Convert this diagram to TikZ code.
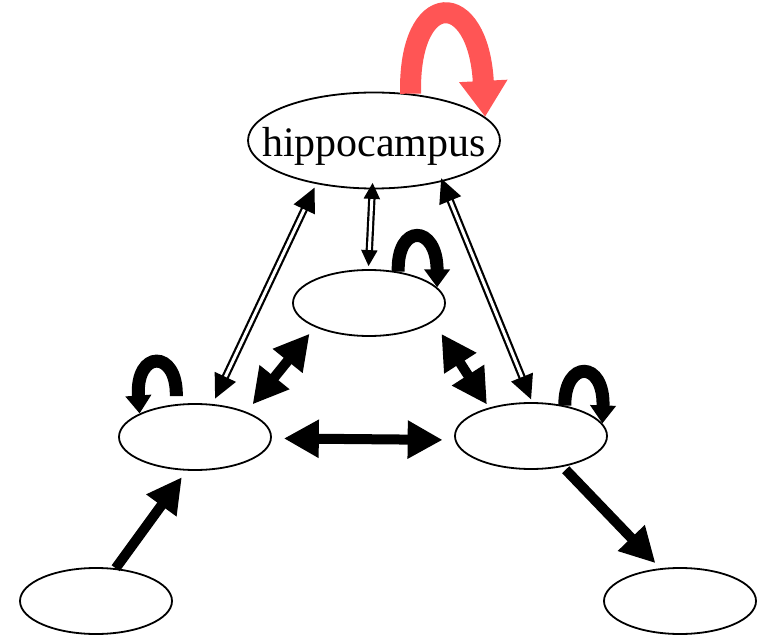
\documentclass[tikz,border=0pt]{standalone}
\usepackage{fontspec}
\setmainfont{Liberation Serif}
\usetikzlibrary{shapes.geometric,arrows.meta}
\definecolor{loopred}{RGB}{255,85,85}
\tikzset{
  region/.style={draw,ellipse,line width=1.8pt,inner sep=0pt,minimum width=152pt,minimum height=66pt},
  twoway/.style={line width=10pt,{Triangle[length=35pt,width=36pt]}-{Triangle[length=35pt,width=36pt]}},
  oneway/.style={line width=10pt,-{Triangle[length=35pt,width=35pt]}},
  hollow/.style={double,line width=2.2pt,double distance=3pt,{Triangle[length=24pt,width=23pt]}-{Triangle[length=24pt,width=23pt]}},
  selfloop/.style={line width=13pt,-{Triangle[length=18pt,width=25pt]}},
}

\begin{document}
\begin{tikzpicture}[x=1pt,y=-1pt]
    \useasboundingbox (0,0) rectangle (760,636);

    % areas
    \node[region,minimum width=252pt,minimum height=96pt,text height=32.6pt,text depth=0pt,font=\fontsize{42}{48}\selectfont] (hippo) at (374,140.5) {\makebox[0pt]{hippocampus}};
    \node[region] (mid) at (369,303) {};
    \node[region] (left) at (195,437) {};
    \node[region] (right) at (531,436) {};
    \node[region] (inL) at (96,601) {};
    \node[region] (outR) at (680,601) {};

    % recurrent loops
    \draw[loopred,line width=21pt,-{Triangle[length=36pt,width=46pt]}] (hippo.52) .. controls +(-2.4,-106) and +(-6.6,-129.5) .. (hippo.12);
    \draw[selfloop] (mid.47) .. controls +(-1.6,-48.4) and +(-0.1,-63.5) .. (mid.13);
    \draw[selfloop,shorten <=8pt] (left.120) .. controls +(1.5,-55) and +(-4.4,-64) .. (left.157);
    \draw[selfloop] (right.42) .. controls +(-0.5,-46) and +(2.2,-63.5) .. (right.10);

    % links to the hippocampus
    \draw[hollow,shorten <=4pt,shorten >=6pt] (hippo.217) -- (left.62);
    \draw[hollow,shorten <=-6.5pt,shorten >=3pt,{Triangle[length=16pt,width=16pt]}-{Triangle[length=16pt,width=16pt]}] (hippo.268) -- (mid.91);
    \draw[hollow,shorten <=-3.5pt,shorten >=3pt] (hippo.329) -- (right.88);

    % links between the areas
    \draw[twoway,shorten <=8.5pt,shorten >=9.6pt] (mid.204) -- (left.26);
    \draw[twoway,shorten <=14.7pt,shorten >=3.7pt] (mid.344) -- (right.146);
    \draw[twoway,shorten <=12pt,shorten >=12pt] (left.359) -- (right.183);

    % input and output
    \draw[oneway,shorten >=8pt] (inL.59) -- (left.256);
    \draw[oneway,shorten <=4pt,shorten >=7pt] (right.316) -- (outR.121);
\end{tikzpicture}
\end{document}
